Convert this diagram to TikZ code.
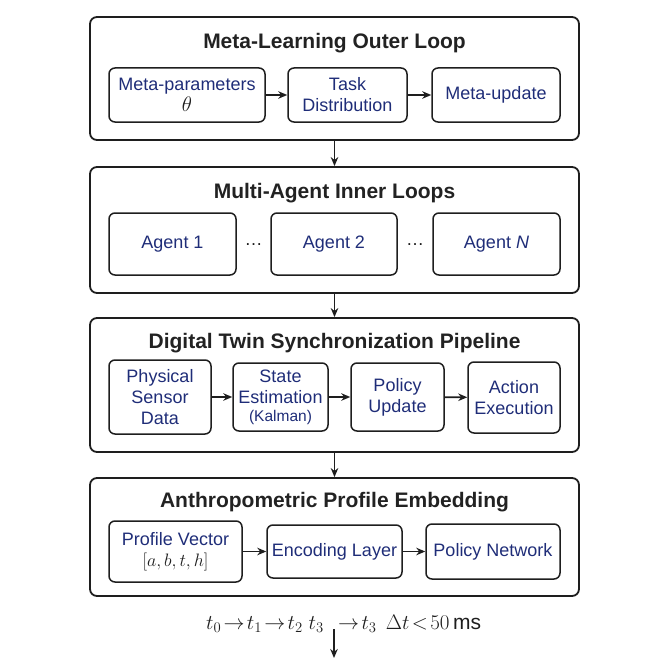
\RequirePackage{fix-cm}
\documentclass[tikz,border=0pt]{standalone}
\usepackage{fontspec}
\setmainfont{Liberation Sans}
\usetikzlibrary{arrows.meta}
\definecolor{linec}{HTML}{1E1E1E}
\definecolor{navy}{HTML}{1F2D78}
\definecolor{titlec}{HTML}{222222}
\begin{document}
\begin{tikzpicture}[x=1pt,y=-1pt,
  outerbox/.style={draw=linec, line width=1.8pt, rounded corners=7pt, inner sep=0pt},
  innerbox/.style={draw=linec, line width=1.5pt, rounded corners=6pt, inner sep=0pt, align=center, text=navy, font=\fontsize{18}{21}\selectfont},
  titletext/.style={text=titlec, font=\fontsize{21}{25}\selectfont\bfseries, inner sep=0pt},
  flow/.style={-{Stealth[length=9pt,width=7.5pt]}, line width=1.6pt, draw=linec},
  dotstext/.style={text=linec, font=\fontsize{18}{20}\selectfont, inner sep=0pt},
  timetext/.style={inner sep=0pt, text=linec, font=\fontsize{21}{24}\selectfont}]
\useasboundingbox (0,0) rectangle (669,669);
% Box 1
\node[outerbox, minimum width=489pt, minimum height=123pt] (b1) at (334.5,78.5) {};
\node[titletext] (t1) at (334.5,43) {Meta-Learning Outer Loop};
\node[innerbox, minimum width=156pt, minimum height=54pt] (mp) at (187,95) {Meta-parameters\\\textcolor{linec}{\fontsize{21}{21}\selectfont$\theta$}};
\node[innerbox, minimum width=119pt, minimum height=54pt] (td) at (347.5,95) {Task\\Distribution};
\node[innerbox, minimum width=128pt, minimum height=54pt] (mu) at (496,95) {Meta-update};
\draw[flow] (mp) -- (td);
\draw[flow] (td) -- (mu);
% Box 2
\node[outerbox, minimum width=489pt, minimum height=126pt] (b2) at (334.5,230) {};
\node[titletext] (t2) at (334.5,193) {Multi-Agent Inner Loops};
\node[innerbox, minimum width=127pt, minimum height=62pt] (a1) at (172.5,244) {Agent 1};
\node[innerbox, minimum width=126pt, minimum height=62pt] (a2) at (334,244) {Agent 2};
\node[innerbox, minimum width=127pt, minimum height=62pt] (an) at (496.5,244) {Agent \textit{N}};
\node[dotstext] (d1) at (253.5,245) {\dots};
\node[dotstext] (d2) at (415,245) {\dots};
% Box 3
\node[outerbox, minimum width=489pt, minimum height=134pt] (b3) at (334.5,385) {};
\node[titletext] (t3) at (334.5,343) {Digital Twin Synchronization Pipeline};
\node[innerbox, minimum width=102pt, minimum height=74pt] (ps) at (160,397) {Physical\\Sensor\\Data};
\node[innerbox, minimum width=95pt, minimum height=68pt] (se) at (280.5,397) {State\\Estimation\\[-3pt]{\fontsize{15.5}{17}\selectfont(Kalman)}};
\node[innerbox, minimum width=93pt, minimum height=68pt] (pu) at (397.5,397) {Policy\\Update};
\node[innerbox, minimum width=92pt, minimum height=71pt] (ae) at (514,397.5) {Action\\Execution};
\draw[flow] (ps) -- (se);
\draw[flow] (se) -- (pu);
\draw[flow] (pu) -- (ae);
% Box 4
\node[outerbox, minimum width=489pt, minimum height=118pt] (b4) at (334.5,537) {};
\node[titletext] (t4) at (334.5,502) {Anthropometric Profile Embedding};
\node[innerbox, minimum width=133pt, minimum height=61pt] (pv) at (175.5,551.5) {Profile Vector\\\textcolor{linec}{$[a{,}\,b{,}\,t{,}\,h]$}};
\node[innerbox, minimum width=135pt, minimum height=53pt] (el) at (334.5,551.5) {Encoding Layer};
\node[innerbox, minimum width=134pt, minimum height=55pt] (pn) at (493,551.5) {Policy Network};
\draw[flow] (pv) -- (el);
\draw[flow] (el) -- (pn);
% connectors between stages
\draw[flow] (b1) -- (b2);
\draw[flow] (b2) -- (b3);
\draw[flow] (b3) -- (b4);
% bottom timeline
\node[timetext, anchor=base east] (tl) at (324,629) {$t_0\!\rightarrow\! t_1\!\rightarrow\! t_2\;t_3$};
\node[timetext, anchor=base west] (tr) at (338,629) {$\rightarrow\! t_3\;\,\Delta t\!<\!50\,$ms};
\coordinate (ds) at (334,629);
\coordinate (de) at (334,658);
\draw[flow] (ds) -- (de);
\end{tikzpicture}
\end{document}
